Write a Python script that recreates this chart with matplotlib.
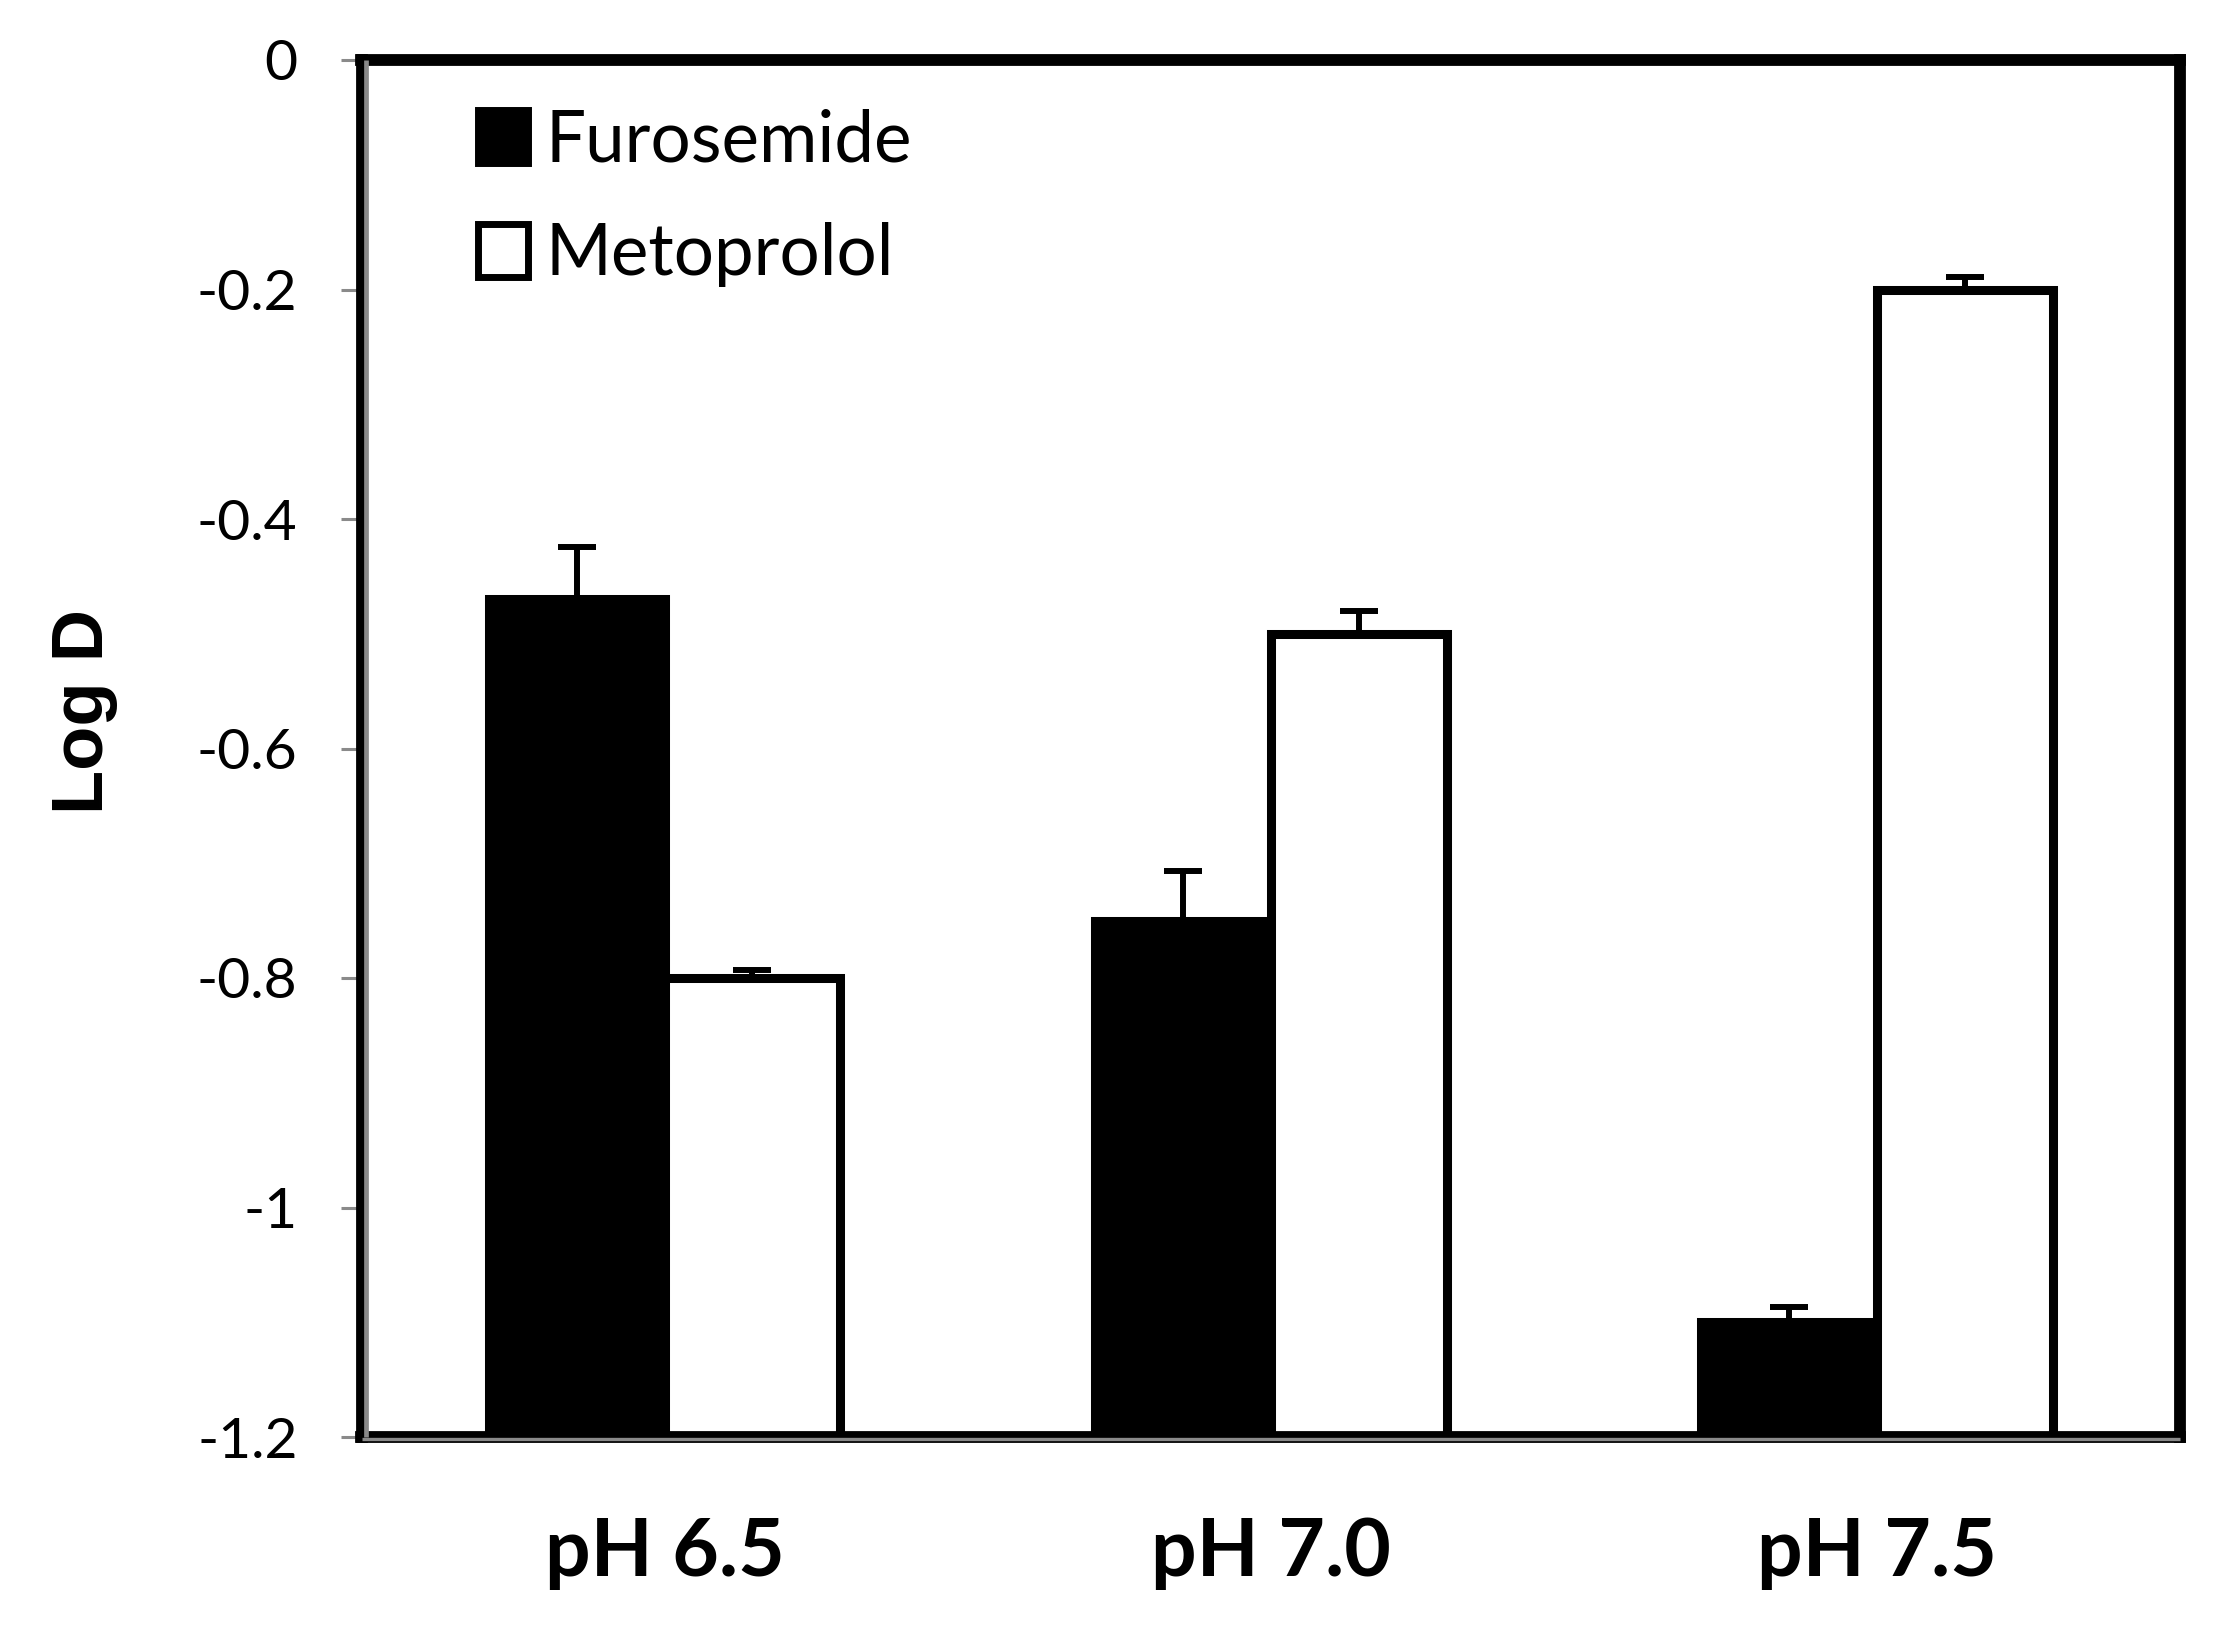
import numpy as np
import matplotlib
matplotlib.use("Agg")
import matplotlib.pyplot as plt
from matplotlib.transforms import offset_copy

plt.rcParams['font.family'] = ['Lato', 'DejaVu Sans']

# values
groups = ["pH 6.5", "pH 7.0", "pH 7.5"]
furosemide = [-0.47, -0.75, -1.10]
furosemide_err = [0.046, 0.043, 0.013]
metoprolol = [-0.80, -0.50, -0.20]
metoprolol_err = [0.007, 0.020, 0.011]
y_ticks = [0, -0.2, -0.4, -0.6, -0.8, -1.0, -1.2]
y_tick_labels = ["0", "-0.2", "-0.4", "-0.6", "-0.8", "-1", "-1.2"]

baseline = -1.2
width = 0.29
x = np.arange(len(groups))

fig = plt.figure(figsize=(22.26, 16.41), dpi=100)
ax = fig.add_axes([361.5 / 2226, 1 - 1437 / 1641, (2180 - 361.5) / 2226, (1437 - 60) / 1641])

furo_h = np.array(furosemide) - baseline
meto_h = np.array(metoprolol) - baseline

# error bars drawn under the bars so the lower cap is hidden
ax.errorbar(x - width / 2, furosemide, yerr=[np.zeros(3), furosemide_err], fmt='none',
            ecolor='black', elinewidth=4.3, capsize=14, capthick=4.3, zorder=1)
ax.errorbar(x + width / 2, metoprolol, yerr=[np.zeros(3), metoprolol_err], fmt='none',
            ecolor='black', elinewidth=4.3, capsize=14, capthick=4.3, zorder=1)

ax.bar(x - width / 2, furo_h, width, bottom=baseline, color='black', edgecolor='black',
       linewidth=6.5, label='Furosemide', zorder=2)
ax.bar(x + width / 2, meto_h, width, bottom=baseline, color='white', edgecolor='black',
       linewidth=6.5, label='Metoprolol', zorder=2)

ax.set_xlim(-0.5, 2.5)
ax.set_ylim(-1.2, 0)

ax.set_yticks(y_ticks)
ax.set_yticklabels(y_tick_labels)
ax.set_xticks(x)
ax.set_xticklabels(groups, fontweight='bold')

ax.tick_params(axis='y', direction='out', length=15, width=2.2, color='#8a8a8a',
               pad=31, labelsize=41, labelcolor='black')
ax.tick_params(axis='x', length=0, pad=57, labelsize=58, labelcolor='black')

for side in ['left', 'right', 'top', 'bottom']:
    ax.spines[side].set_linewidth(8.5)
    ax.spines[side].set_color('black')

# grey axis lines sitting on the inner side of the black frame (Excel style)
left_tr = offset_copy(ax.transAxes, fig=fig, x=4, y=0, units='dots')
bottom_tr = offset_copy(ax.transAxes, fig=fig, x=0, y=-1.5, units='dots')
ax.plot([0, 0], [0, 1], transform=left_tr, color='#8a8a8a', lw=3.4,
        clip_on=False, zorder=5, solid_capstyle='butt')
ax.plot([0, 1], [0, 0], transform=bottom_tr, color='#8a8a8a', lw=2.4,
        clip_on=False, zorder=5, solid_capstyle='butt')

ax.set_ylabel("Log D", fontsize=52, fontweight='bold', family='Liberation Sans')
ax.yaxis.set_label_coords(-0.134, 0.527)

leg = ax.legend(loc='upper left', bbox_to_anchor=(0.064, 0.965), frameon=False,
                fontsize=51, handlelength=0.71, handleheight=0.76, handletextpad=0.25,
                labelspacing=0.69, borderpad=0, borderaxespad=0)
for h in leg.legend_handles:
    h.set_linewidth(5)

fig.savefig("out.png", dpi=100, facecolor='white')
